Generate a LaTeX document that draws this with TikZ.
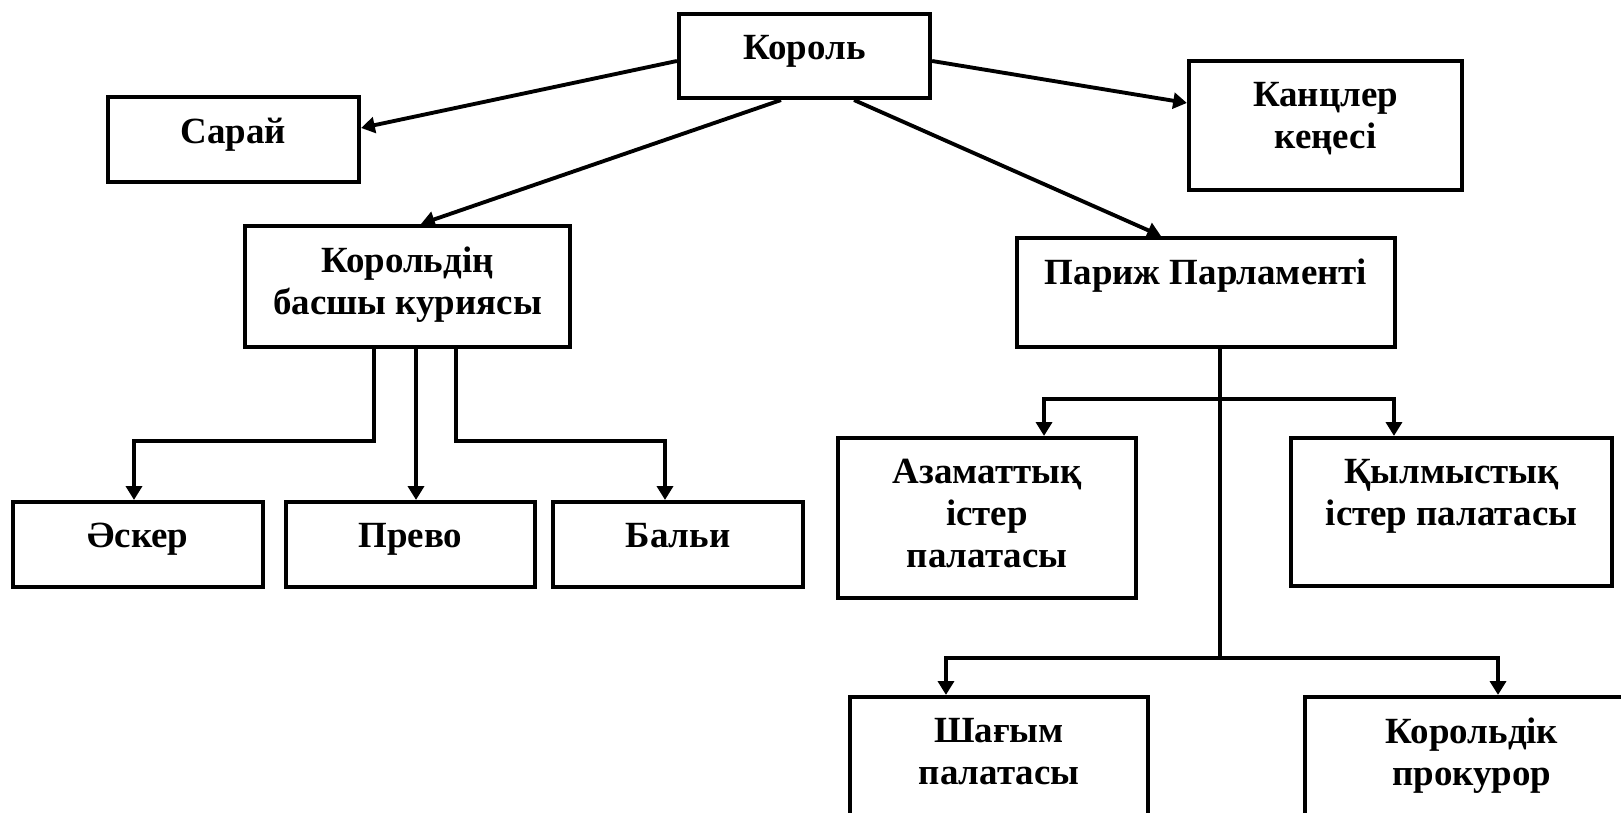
\documentclass[tikz,border=0pt]{standalone}
\usepackage{fontspec}
\setmainfont{Liberation Serif}
\usetikzlibrary{positioning}
\usetikzlibrary{arrows.meta}

\begin{document}
\begin{tikzpicture}[
  x=0.01cm, y=-0.01cm,
  font=\fontsize{10.5}{11.9}\selectfont\bfseries,
  % --- styles ---
  box/.style={draw, line width=1.15pt, inner sep=0pt},
  txt/.style={align=center, inner sep=0pt},
  arrow/.style={-{Triangle[length=3.9pt, width=4.5pt]}, line width=1.1pt},
  link/.style={line width=1.1pt}
]
\useasboundingbox (0,0) rectangle (1621,813);
\clip (0,0) rectangle (1621,813);

% ======================================================
% Boxes (top row, second row, bottom rows)
% ======================================================
\node[box, minimum width=2.51cm, minimum height=0.84cm] (korol)    at ( 804.5, 56)   {};
\node[box, minimum width=2.51cm, minimum height=0.85cm] (saray)    at ( 233.5,139.5) {};
\node[box, minimum width=2.73cm, minimum height=1.29cm] (kancler)  at (1325.5,125.5) {};
\node[box, minimum width=3.25cm, minimum height=1.21cm] (kuria)    at ( 407.5,286.5) {};
\node[box, minimum width=3.78cm, minimum height=1.09cm] (parizh)   at (1206,  292.5) {};
\node[box, minimum width=2.50cm, minimum height=0.85cm] (asker)    at ( 138,  544.5) {};
\node[box, minimum width=2.49cm, minimum height=0.85cm] (prevo)    at ( 410.5,544.5) {};
\node[box, minimum width=2.50cm, minimum height=0.85cm] (bali)     at ( 678,  544.5) {};
\node[box, minimum width=2.98cm, minimum height=1.60cm] (azamat)   at ( 987,  518)   {};
\node[box, minimum width=3.21cm, minimum height=1.48cm] (qylmys)   at (1451.5,512)   {};
\node[box, minimum width=2.98cm, minimum height=1.60cm] (shagym)   at ( 999,  777)   {};
\node[box, minimum width=3.34cm, minimum height=1.60cm] (prokuror) at (1472,  777)   {};

% ======================================================
% Texts (top aligned in each box)
% ======================================================
\node[txt, below=2.25mm of korol.north]    (Tkorol)    {Король};
\node[txt, below=2.25mm of saray.north]    (Tsaray)    {Сарай};
\node[txt, below=2.25mm of kancler.north]  (Tkancler)  {Канцлер\\кеңесі};
\node[txt, below=2.25mm of kuria.north]    (Tkuria)    {Корольдің\\басшы куриясы};
\node[txt, below=2.25mm of parizh.north]   (Tparizh)   {Париж Парламенті};
\node[txt, below=2.25mm of asker.north]    (Tasker)    {Әскер};
\node[txt, below=2.25mm of prevo.north]    (Tprevo)    {Прево};
\node[txt, below=2.25mm of bali.north]     (Tbali)     {Бальи};
\node[txt, below=2.25mm of azamat.north]   (Tazamat)   {Азаматтық\\істер\\палатасы};
\node[txt, below=2.25mm of qylmys.north]   (Tqylmys)   {Қылмыстық\\істер палатасы};
\node[txt, below=2.25mm of shagym.north]   (Tshagym)   {Шағым\\палатасы};
\node[txt, below=2.25mm of prokuror.north] (Tprokuror) {Корольдік\\прокурор};

% ======================================================
% From the king
% ======================================================
\draw[arrow] ([yshift=-0.5mm]korol.west) -- ([yshift=1.15mm]saray.east);
\draw[arrow] ([yshift=-0.5mm]korol.east) -- ([yshift=2.25mm]kancler.west);
\draw[arrow] ([xshift=-2.35mm]korol.south) -- ([xshift=1.35mm]kuria.north);
\draw[arrow] ([xshift=4.95mm]korol.south) -- ([xshift=-4.5mm]parizh.north);

% ======================================================
% Curia branches
% ======================================================
\draw[arrow] ([xshift=-3.35mm]kuria.south) -- ++(0,92) -| ([xshift=-0.4mm]asker.north);
\draw[arrow] ([xshift=0.85mm]kuria.south) -- ([xshift=0.55mm]prevo.north);
\draw[arrow] ([xshift=4.85mm]kuria.south) -- ++(0,92) -| ([xshift=-1.3mm]bali.north);

% ======================================================
% Parliament branches
% ======================================================
\coordinate (fork1) at ([xshift=1.4mm, yshift=-5mm]parizh.south);
\coordinate (fork2) at ([xshift=1.4mm, yshift=-30.9mm]parizh.south);
\draw[link] ([xshift=1.4mm]parizh.south) -- (fork2);
\draw[arrow] (fork1) -| ([xshift=5.7mm]azamat.north);
\draw[arrow] (fork1) -| ([xshift=-5.75mm]qylmys.north);
\draw[arrow] (fork2) -| ([xshift=-5.3mm]shagym.north);
\draw[arrow] (fork2) -| ([xshift=2.6mm]prokuror.north);

\end{tikzpicture}
\end{document}
